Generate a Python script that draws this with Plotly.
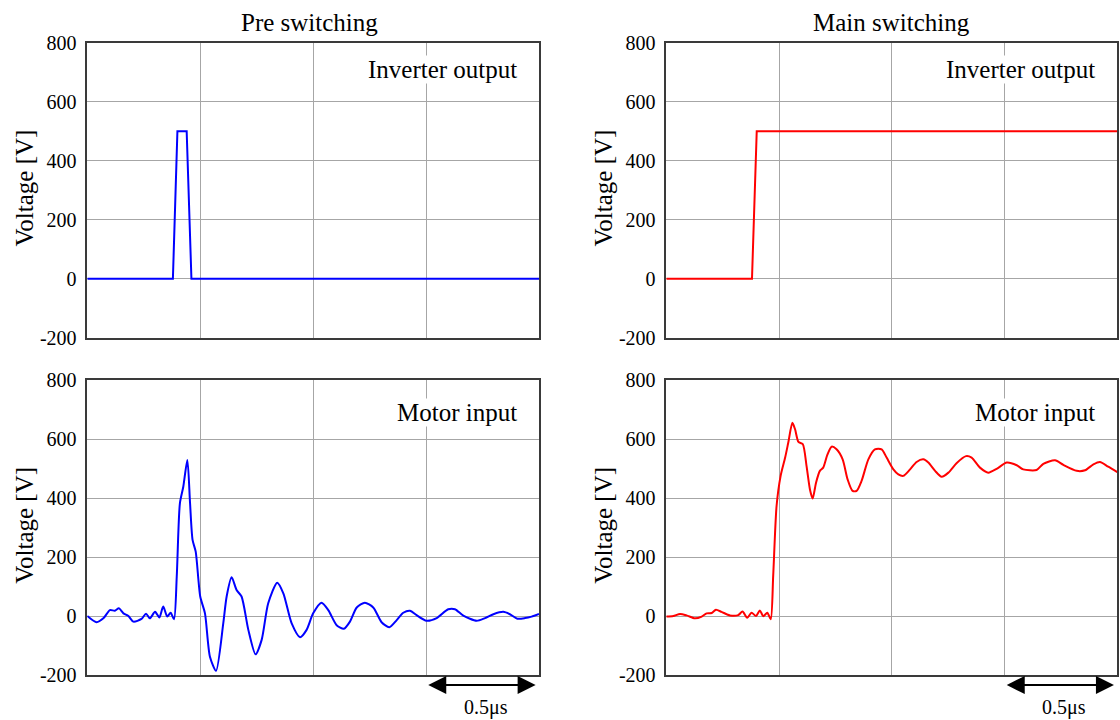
import plotly.graph_objects as go

# Time axis in microseconds (0 .. 2 us, grid every 0.5 us)
X_RANGE = [0, 2]
Y_RANGE = [-200, 800]
Y_TICKS = [-200, 0, 200, 400, 600, 800]
Y_TICK_TEXT = ["-200", "0", "200", "400", "600", "800"]

# Pre switching: inverter output (short pulse)
pre_inv_t = [0.0, 0.379, 0.399, 0.440, 0.461, 2.0]
pre_inv_v = [0, 0, 500, 500, 0, 0]

# Pre switching: motor input
pre_mot_t = [0.0, 0.041, 0.071, 0.10, 0.122, 0.140, 0.16, 0.182, 0.204, 0.24, 0.26, 0.277,
             0.30, 0.319, 0.336, 0.354, 0.369, 0.384, 0.396, 0.41, 0.425, 0.443, 0.455,
             0.466, 0.48, 0.50, 0.521, 0.543, 0.57, 0.602, 0.617, 0.639, 0.661, 0.683,
             0.713, 0.745, 0.772, 0.801, 0.841, 0.868, 0.905, 0.942, 0.971, 1.0, 1.037,
             1.067, 1.104, 1.136, 1.163, 1.193, 1.229, 1.266, 1.303, 1.337, 1.37, 1.399,
             1.429, 1.458, 1.502, 1.547, 1.598, 1.628, 1.665, 1.724, 1.761, 1.798, 1.842,
             1.871, 1.904, 1.938, 1.967, 2.0]
pre_mot_v = [0, -21, -8, 20, 18, 26, 9, 0, -19, -10, 8, -8,
             14, -5, 32, -2, 11, -11, 133, 382, 438, 529, 382,
             258, 218, 66, 9, -138, -186, -25, 66, 131, 88, 66,
             -47, -130, -81, 43, 113, 77, -25, -72, -47, 9, 45,
             20, -31, -43, -19, 29, 45, 29, -21, -38, -14, 11,
             18, 3, -16, -7, 23, 23, 1, -16, -7, 6, 14,
             6, -9, -7, -2, 7]

# Main switching: inverter output (step)
main_inv_t = [0.0, 0.380, 0.401, 2.0]
main_inv_v = [0, 0, 500, 500]

# Main switching: motor input
main_mot_t = [0.0, 0.031, 0.061, 0.09, 0.127, 0.157, 0.179, 0.201, 0.22, 0.245, 0.282,
              0.319, 0.338, 0.359, 0.378, 0.398, 0.415, 0.43, 0.448, 0.463, 0.474, 0.489,
              0.507, 0.527, 0.541, 0.559, 0.571, 0.586, 0.605, 0.622, 0.637, 0.649, 0.664,
              0.681, 0.696, 0.714, 0.733, 0.755, 0.782, 0.804, 0.826, 0.844, 0.866, 0.896,
              0.925, 0.955, 0.977, 1.007, 1.029, 1.051, 1.081, 1.11, 1.14, 1.162, 1.192,
              1.221, 1.251, 1.287, 1.329, 1.354, 1.391, 1.428, 1.465, 1.51, 1.554, 1.583,
              1.642, 1.672, 1.724, 1.761, 1.82, 1.857, 1.894, 1.923, 1.96, 2.0]
main_mot_v = [-2, 0, 7, 2, -8, -2, 9, 10, 21, 14, 2,
              3, 15, -6, 11, 0, 19, -1, 11, -11, 136, 373,
              475, 537, 588, 655, 633, 590, 583, 508, 429, 398, 452,
              492, 503, 546, 574, 565, 531, 463, 424, 424, 458, 531,
              565, 565, 537, 497, 480, 475, 497, 522, 531, 520, 492,
              472, 486, 518, 542, 537, 503, 486, 499, 520, 511, 497,
              495, 516, 528, 512, 492, 494, 514, 522, 506, 488]

BLUE = "#0000ff"
RED = "#ff0000"
GRID = "#a6a6a6"
FRAME = "#3a3a3a"
SERIF = "Liberation Serif"

W, H = 1120, 720
# panel pixel boxes (left, right) and (top, bottom)
LEFT_COL = (87.3, 539.0)
RIGHT_COL = (666.3, 1117.3)
TOP_ROW = (42.7, 337.7)
BOT_ROW = (380.0, 675.0)


def xdom(col):
    return [col[0] / W, col[1] / W]


def ydom(row):
    return [1 - row[1] / H, 1 - row[0] / H]


fig = go.Figure()

panels = [
    ("x", "y", pre_inv_t, pre_inv_v, BLUE, "linear"),
    ("x2", "y2", main_inv_t, main_inv_v, RED, "linear"),
    ("x3", "y3", pre_mot_t, pre_mot_v, BLUE, "spline"),
    ("x4", "y4", main_mot_t, main_mot_v, RED, "spline"),
]
for xa, ya, t, v, color, shape in panels:
    line = dict(color=color, width=2, shape=shape)
    if shape == "spline":
        line["smoothing"] = 0.7
    fig.add_trace(go.Scatter(
        x=t, y=v, xaxis=xa, yaxis=ya, mode="lines", line=line,
        showlegend=False, hoverinfo="skip",
    ))

xaxis_common = dict(
    range=X_RANGE, tickvals=[0.5, 1.0, 1.5], showticklabels=False, ticks="",
    showgrid=True, gridcolor=GRID, gridwidth=1, zeroline=False, automargin=False,
    showline=True, mirror=True, linecolor=FRAME, linewidth=1.5,
)
yaxis_common = dict(
    range=Y_RANGE, tickvals=Y_TICKS, ticktext=Y_TICK_TEXT, ticks="",
    ticklabelstandoff=5, automargin=False,
    tickfont=dict(family=SERIF, size=20, color="black"),
    showgrid=True, gridcolor=GRID, gridwidth=1, zeroline=False,
    showline=True, mirror=True, linecolor=FRAME, linewidth=1.5,
)

layout_axes = {}
for i, (col, row) in enumerate([(LEFT_COL, TOP_ROW), (RIGHT_COL, TOP_ROW),
                                (LEFT_COL, BOT_ROW), (RIGHT_COL, BOT_ROW)], start=1):
    sfx = "" if i == 1 else str(i)
    layout_axes["xaxis" + sfx] = dict(xaxis_common, domain=xdom(col), anchor="y" + sfx)
    layout_axes["yaxis" + sfx] = dict(yaxis_common, domain=ydom(row), anchor="x" + sfx)

fig.update_layout(
    width=W, height=H,
    margin=dict(l=0, r=0, t=0, b=0, pad=0, autoexpand=False),
    paper_bgcolor="white", plot_bgcolor="white",
    font=dict(family=SERIF, color="black"),
    showlegend=False,
    **layout_axes,
)

annotations = []

# column titles
for text, cx in [("Pre switching", 309), ("Main switching", 892)]:
    annotations.append(dict(text=text, x=cx / W, y=1 - 22 / H, xref="paper", yref="paper",
                            xanchor="center", yanchor="middle", showarrow=False,
                            font=dict(family=SERIF, size=25, color="black")))

# y-axis titles
for col_left, row in [(LEFT_COL[0], TOP_ROW), (RIGHT_COL[0], TOP_ROW),
                      (LEFT_COL[0], BOT_ROW), (RIGHT_COL[0], BOT_ROW)]:
    cy = (row[0] + row[1]) / 2 - 2
    cx = col_left - 63
    annotations.append(dict(text="Voltage [V]", x=cx / W, y=1 - cy / H, xref="paper", yref="paper",
                            xanchor="center", yanchor="middle", textangle=-90, showarrow=False,
                            font=dict(family=SERIF, size=25, color="black")))

# panel labels (white box hides the grid behind the text)
for text, col, cy in [("Inverter output", LEFT_COL, 69.3), ("Inverter output", RIGHT_COL, 69.3),
                      ("Motor input", LEFT_COL, 412.7), ("Motor input", RIGHT_COL, 412.7)]:
    rx = col[1] - 21
    annotations.append(dict(text=text, x=rx / W, y=1 - cy / H, xref="paper", yref="paper",
                            xanchor="right", yanchor="middle", showarrow=False,
                            bgcolor="white", borderpad=0,
                            font=dict(family=SERIF, size=25, color="black")))

# 0.5 us scale bars under the bottom panels
arrow_y = 1 - 685 / H
for xa in ["x3", "x4"]:
    annotations.append(dict(text="", x=1.985, y=arrow_y, ax=1.503, ay=0,
                            xref=xa, yref="paper", axref=xa, ayref="pixel",
                            showarrow=True, arrowhead=2, startarrowhead=2, arrowside="end+start",
                            arrowsize=1.8, startarrowsize=1.8, arrowwidth=2, arrowcolor="black"))
    annotations.append(dict(text="0.5\u03bcs", x=1.765, y=1 - 707 / H, xref=xa, yref="paper",
                            xanchor="center", yanchor="middle", showarrow=False,
                            font=dict(family=SERIF, size=20, color="black")))

fig.update_layout(annotations=annotations)

fig.write_html("out.html")
